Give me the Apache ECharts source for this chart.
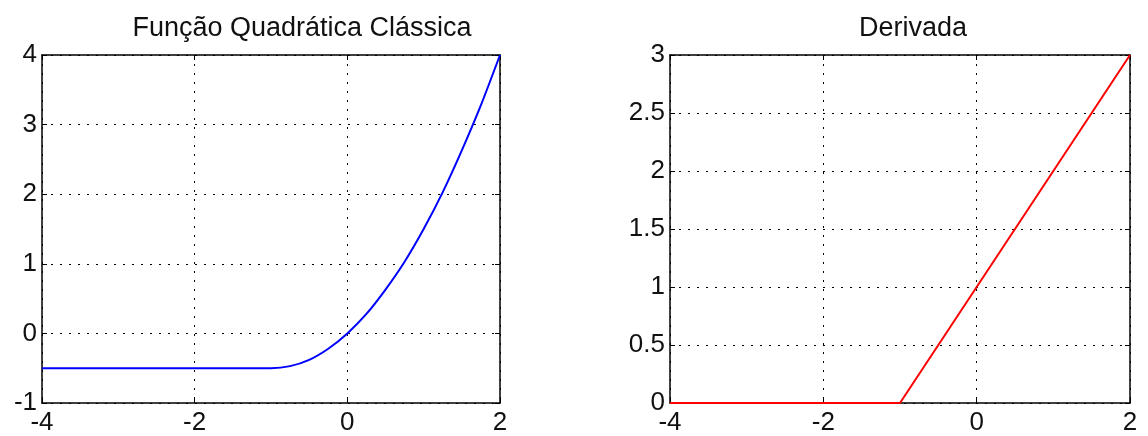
<!DOCTYPE html>
<html>
<head>
<meta charset="utf-8">
<script src="https://cdn.jsdelivr.net/npm/echarts@6/dist/echarts.min.js"></script>
<style>
html,body{margin:0;padding:0;background:#fff;}
#c{width:1148px;height:436px;}
</style>
</head>
<body>
<div id="c"></div>
<script>
// Data
var quadX = [-4, -3.75, -3.5, -3.25, -3, -2.75, -2.5, -2.25, -2, -1.75, -1.5, -1.25, -1,
             -0.75, -0.5, -0.25, 0, 0.25, 0.5, 0.75, 1, 1.25, 1.5, 1.75, 2];
var quadY = [-0.5, -0.5, -0.5, -0.5, -0.5, -0.5, -0.5, -0.5, -0.5, -0.5, -0.5, -0.5, -0.5,
             -0.47, -0.38, -0.22, 0, 0.28, 0.63, 1.03, 1.5, 2.03, 2.63, 3.28, 4];
var derivX = [-4, -1, 2];
var derivY = [0, 0, 3];
var titles = ['Função Quadrática Clássica', 'Derivada'];

function pairs(xs, ys){ return xs.map(function(x,i){ return [x, ys[i]]; }); }

var FONT = '"Liberation Sans", Arial, sans-serif';
var gridLine = {show:true, lineStyle:{color:'#000', width:1, type:[2,7]}};
function xAx(gi, pos, labels){
  return {type:'value', gridIndex:gi, position:pos, min:-4, max:2, interval:2,
    axisLine:{show:true, onZero:false, lineStyle:{color:'#000', width:1.5}},
    axisTick:{show:true, inside:true, length:5, lineStyle:{color:'#000'}},
    axisLabel:{show:labels, color:'#111', fontSize:26, fontFamily:FONT, margin:7},
    splitLine: labels ? gridLine : {show:false}};
}
function yAx(gi, pos, labels, min, max, iv){
  return {type:'value', gridIndex:gi, position:pos, min:min, max:max, interval:iv,
    axisLine:{show:true, onZero:false, lineStyle:{color:'#000', width:1.5}},
    axisTick:{show:true, inside:true, length:5, lineStyle:{color:'#000'}},
    axisLabel:{show:labels, color:'#111', fontSize:26, fontFamily:FONT, margin:5},
    splitLine: labels ? gridLine : {show:false}};
}

var chart = echarts.init(document.getElementById('c'), null, {renderer:'canvas'});
chart.setOption({
  animation:false,
  backgroundColor:'#fff',
  title:[
    {text:titles[0], left:297, top:10, textAlign:'center',
      textStyle:{fontSize:27, fontWeight:'normal', color:'#111', fontFamily:FONT}},
    {text:titles[1], left:908, top:10, textAlign:'center',
      textStyle:{fontSize:27, fontWeight:'normal', color:'#111', fontFamily:FONT}}
  ],
  grid:[
    {left:42, top:55, width:458, height:351},
    {left:670, top:55, width:460, height:351}
  ],
  xAxis:[xAx(0,'bottom',true), xAx(0,'top',false), xAx(1,'bottom',true), xAx(1,'top',false)],
  yAxis:[yAx(0,'left',true,-1,4,1), yAx(0,'right',false,-1,4,1),
         yAx(1,'left',true,0,3,0.5), yAx(1,'right',false,0,3,0.5)],
  series:[
    {type:'line', xAxisIndex:0, yAxisIndex:0, data:pairs(quadX, quadY), showSymbol:false,
      smooth:0.25, lineStyle:{color:'#0000ff', width:2}},
    {type:'line', xAxisIndex:2, yAxisIndex:2, data:pairs(derivX, derivY), showSymbol:false,
      lineStyle:{color:'#ff0000', width:2}}
  ]
});
</script>
</body>
</html>
